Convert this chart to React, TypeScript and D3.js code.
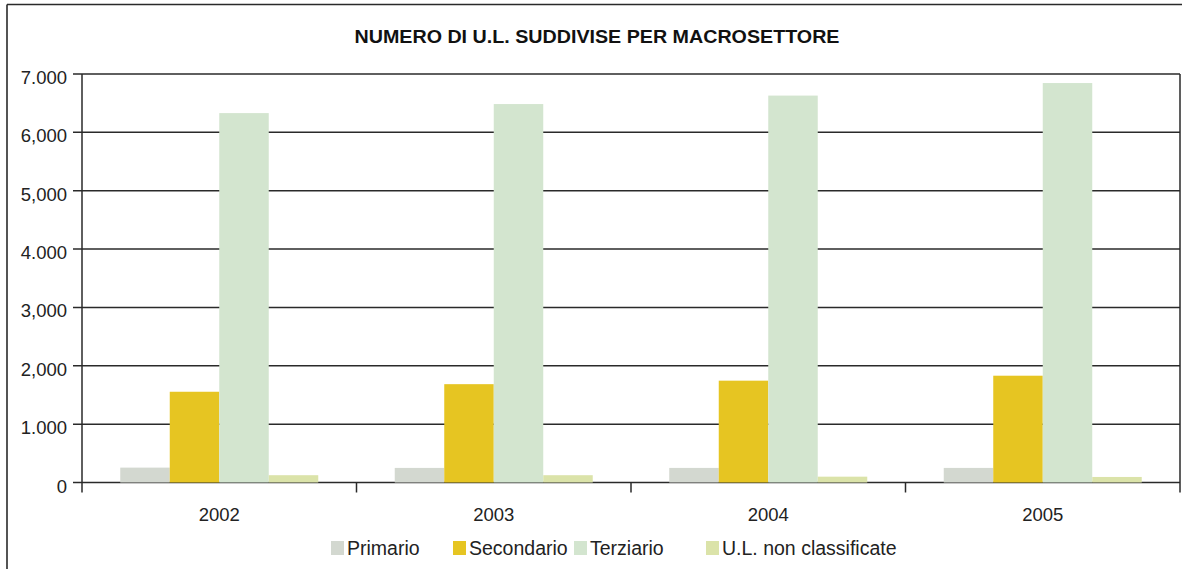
import React from "react";
import * as d3 from "d3";

const years = ["2002", "2003", "2004", "2005"];
const seriesNames = ["Primario", "Secondario", "Terziario", "U.L. non classificate"];
const primario = [255, 250, 250, 250];
const secondario = [1555, 1685, 1745, 1830];
const terziario = [6330, 6485, 6630, 6845];
const nonClassificate = [125, 125, 100, 95];
const tickValues = [0, 1000, 2000, 3000, 4000, 5000, 6000, 7000];
const tickLabels = ["0", "1.000", "2,000", "3,000", "4.000", "5,000", "6,000", "7.000"];
const colors = ["#d3d8d0", "#e6c522", "#d3e5cf", "#dbe3a9"];
const legendX = [331, 453, 574, 706];

const W = 1182;
const H = 569;
const left = 82;
const right = 1180;
const top = 74;
const bottom = 482.5;
const font = "'Liberation Sans', Arial, Helvetica, sans-serif";

export default function App() {
  const values = [primario, secondario, terziario, nonClassificate];
  const x = d3.scaleBand<string>().domain(years).range([left, right]).paddingInner(0).paddingOuter(0);
  const bw = 49.5;
  const groupW = bw * 4;
  const y = d3.scaleLinear().domain([0, 7000]).range([bottom, top]);
  const ink = "#2a2a2a";

  return (
    <svg width={W} height={H} style={{ position: "absolute", left: 0, top: 0, background: "#fff" }}>
      {/* outer frame */}
      <line x1={7} y1={4.5} x2={W} y2={4.5} stroke={ink} strokeWidth={1.6} />
      <line x1={7} y1={4.5} x2={7} y2={H} stroke={ink} strokeWidth={1.6} />

      <text x={597} y={42.5} textAnchor="middle" fontFamily={font} fontWeight="bold" fontSize={18}
        textLength={485} lengthAdjust="spacingAndGlyphs" fill="#111">
        NUMERO DI U.L. SUDDIVISE PER MACROSETTORE
      </text>

      {/* gridlines */}
      {tickValues.map((t, i) => (
        <g key={t}>
          <line x1={left - 9} x2={right} y1={y(t)} y2={y(t)} stroke={ink} strokeWidth={1.5} />
          <text x={67} y={y(t) + 10} textAnchor="end" fontFamily={font} fontSize={18.5} fill="#222">
            {tickLabels[i]}
          </text>
        </g>
      ))}

      {/* bars */}
      {years.map((yr, gi) => {
        const x0 = (x(yr) as number) + (x.bandwidth() - groupW) / 2;
        return (
          <g key={yr}>
            {values.map((vals, si) => (
              <rect
                key={si}
                x={x0 + si * bw}
                y={y(vals[gi])}
                width={bw}
                height={bottom - y(vals[gi])}
                fill={colors[si]}
              />
            ))}
            <text x={(x(yr) as number) + x.bandwidth() / 2} y={520.5} textAnchor="middle" fontFamily={font} fontSize={18.5} fill="#222">
              {yr}
            </text>
          </g>
        );
      })}

      {/* axes */}
      <line x1={left} x2={left} y1={top} y2={bottom + 10} stroke={ink} strokeWidth={1.5} />
      <line x1={right} x2={right} y1={top} y2={bottom + 10} stroke={ink} strokeWidth={1.5} />
      {years.slice(1).map((yr) => (
        <line key={yr} x1={x(yr) as number} x2={x(yr) as number} y1={bottom} y2={bottom + 10} stroke={ink} strokeWidth={1.5} />
      ))}

      {/* legend */}
      {seriesNames.map((name, i) => (
        <g key={name}>
          <rect x={legendX[i]} y={541} width={13} height={14} fill={colors[i]} />
          <text x={legendX[i] + 16} y={555} fontFamily={font} fontSize={19.5} fill="#222">
            {name}
          </text>
        </g>
      ))}
    </svg>
  );
}
